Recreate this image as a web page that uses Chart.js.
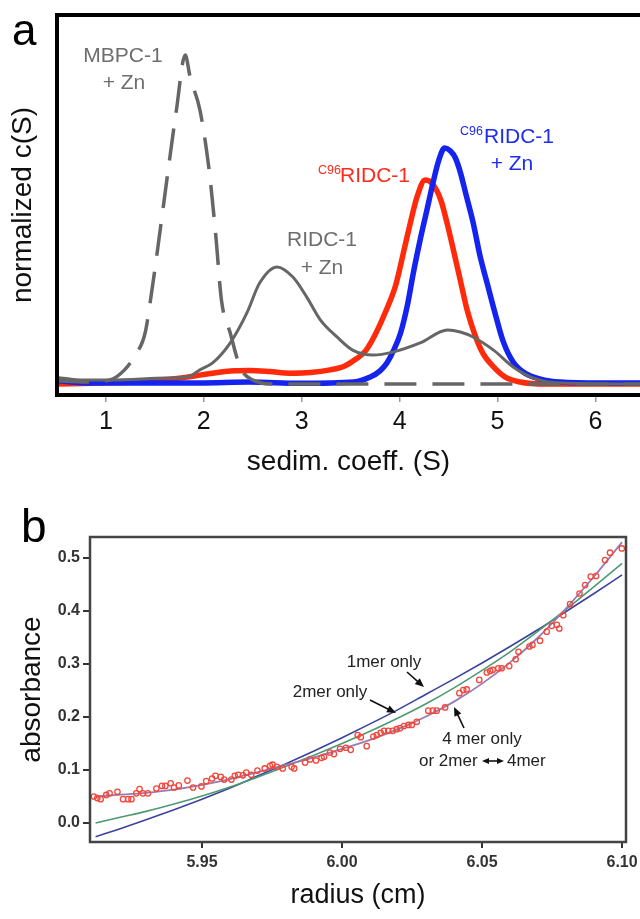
<!DOCTYPE html>
<html>
<head>
<meta charset="utf-8">
<script src="https://cdn.jsdelivr.net/npm/chart.js@4.4.0/dist/chart.umd.min.js"></script>
<style>
  html, body { margin: 0; padding: 0; background: #fff; }
  #wrap { position: relative; width: 640px; height: 919px; overflow: hidden; }
  canvas { position: absolute; left: 0; }
  #chartA { top: 0; }
  #chartB { top: 480px; }
</style>
</head>
<body>
<div id="wrap">
  <canvas id="chartA" width="640" height="480"></canvas>
  <canvas id="chartB" width="640" height="439"></canvas>
</div>
<script>
// ---- panel a : c(S) distributions ----
const sTicks = [1, 2, 3, 4, 5, 6];

const mbpcS = [0.5, 0.8, 1.04, 1.19, 1.30, 1.40, 1.47, 1.55, 1.64, 1.72, 1.81, 1.86, 1.96, 2.05, 2.12, 2.18, 2.27, 2.37, 2.5, 2.7, 6.46];
const mbpcC = [0.01, 0.006, 0.012, 0.043, 0.088, 0.155, 0.286, 0.459, 0.66, 0.833, 1.0, 0.933, 0.833, 0.66, 0.459, 0.255, 0.155, 0.052, 0.012, 0, 0];

const ridcS = [0.5, 0.77, 1.04, 1.62, 1.83, 1.96, 2.09, 2.27, 2.44, 2.57, 2.75, 2.91, 3.05, 3.19, 3.36, 3.52, 3.73, 3.93, 4.21, 4.49, 4.62, 4.75, 4.96, 5.16, 5.37, 5.64, 6.46];
const ridcC = [0.02, 0.012, 0.012, 0.018, 0.021, 0.043, 0.064, 0.125, 0.216, 0.307, 0.356, 0.325, 0.265, 0.195, 0.143, 0.103, 0.088, 0.097, 0.125, 0.164, 0.158, 0.143, 0.103, 0.052, 0.018, 0.003, 0];

const c96S = [0.5, 0.94, 1.28, 1.55, 1.83, 2.09, 2.32, 2.47, 2.67, 2.88, 3.09, 3.29, 3.44, 3.55, 3.65, 3.75, 3.85, 3.96, 4.04, 4.11, 4.18, 4.26, 4.33, 4.42, 4.49, 4.55, 4.62, 4.69, 4.77, 4.85, 4.96, 5.08, 5.23, 5.49, 6.46];
const c96C = [0, 0.003, 0.006, 0.012, 0.021, 0.033, 0.040, 0.041, 0.038, 0.033, 0.035, 0.043, 0.055, 0.075, 0.10, 0.15, 0.215, 0.30, 0.40, 0.49, 0.57, 0.62, 0.61, 0.56, 0.483, 0.407, 0.316, 0.225, 0.149, 0.094, 0.052, 0.021, 0.006, 0, 0];

const c96ZnS = [0.5, 0.84, 1.96, 2.47, 2.98, 3.53, 3.70, 3.80, 3.87, 3.94, 4.01, 4.08, 4.14, 4.21, 4.28, 4.34, 4.40, 4.46, 4.52, 4.57, 4.62, 4.68, 4.75, 4.82, 4.90, 4.98, 5.06, 5.16, 5.28, 5.44, 5.64, 6.05, 6.46];
const c96ZnC = [0.01, 0.003, 0.003, 0.006, 0.002, 0.006, 0.021, 0.04, 0.064, 0.103, 0.155, 0.24, 0.337, 0.438, 0.53, 0.61, 0.68, 0.717, 0.708, 0.687, 0.644, 0.574, 0.492, 0.392, 0.30, 0.21, 0.128, 0.067, 0.033, 0.015, 0.006, 0.003, 0.003];

// ---- panel b : absorbance vs radius ----
const rTicks = [5.95, 6.00, 6.05, 6.10];
const absTicks = [0.0, 0.1, 0.2, 0.3, 0.4, 0.5];

const radius = [5.9114, 5.9126, 5.9138, 5.9158, 5.9170, 5.9198, 5.9218, 5.9236, 5.9248, 5.9265, 5.9277, 5.9289, 5.9307, 5.9337, 5.9357, 5.9369, 5.9388, 5.9400, 5.9417, 5.9448, 5.9468, 5.9498, 5.9515, 5.9536, 5.9548, 5.9567, 5.9579, 5.9605, 5.9617, 5.9629, 5.9646, 5.9658, 5.9676, 5.9698, 5.9724,
  5.9743, 5.9752, 5.9767, 5.9788, 5.9820, 5.9829, 5.9868, 5.9886, 5.9907, 5.9927, 5.9936, 5.9957, 5.9971, 5.9993, 6.0014, 6.0031, 6.0056, 6.0067, 6.0088, 6.0112, 6.0124, 6.0138, 6.0150, 6.0165, 6.0181, 6.0195, 6.0207, 6.0221, 6.0237, 6.0249, 6.0267, 6.0308, 6.0324, 6.0338, 6.0368,
  6.0419, 6.0433, 6.0445, 6.0490, 6.0517, 6.0529, 6.0538, 6.0558, 6.0570, 6.0597, 6.0620, 6.0630, 6.0669, 6.0680, 6.0707, 6.0731, 6.0749, 6.0767, 6.0776, 6.0790, 6.0814, 6.0848, 6.0868, 6.0888, 6.0907, 6.0939, 6.0957, 6.0999];
const absorb = [0.050, 0.047, 0.045, 0.053, 0.056, 0.059, 0.045, 0.045, 0.045, 0.056, 0.064, 0.056, 0.056, 0.065, 0.070, 0.070, 0.075, 0.067, 0.071, 0.080, 0.067, 0.069, 0.079, 0.084, 0.089, 0.087, 0.082, 0.082, 0.089, 0.091, 0.090, 0.095, 0.091, 0.099, 0.103,
  0.108, 0.110, 0.106, 0.103, 0.106, 0.103, 0.114, 0.120, 0.118, 0.123, 0.125, 0.133, 0.130, 0.140, 0.142, 0.138, 0.166, 0.162, 0.145, 0.163, 0.166, 0.170, 0.174, 0.174, 0.174, 0.177, 0.179, 0.183, 0.185, 0.185, 0.191, 0.212, 0.212, 0.212, 0.218,
  0.245, 0.251, 0.252, 0.270, 0.284, 0.287, 0.289, 0.292, 0.292, 0.296, 0.309, 0.323, 0.333, 0.336, 0.344, 0.361, 0.372, 0.374, 0.367, 0.392, 0.413, 0.433, 0.449, 0.465, 0.466, 0.496, 0.510, 0.518];

const fitR = [5.912, 5.92, 5.93, 5.94, 5.95, 5.96, 5.97, 5.98, 5.99, 6.00, 6.01, 6.02, 6.03, 6.04, 6.05, 6.06, 6.07, 6.08, 6.09, 6.10];
const oneMer = [-0.026, -0.012, 0.006, 0.025, 0.045, 0.066, 0.089, 0.112, 0.136, 0.161, 0.187, 0.214, 0.243, 0.272, 0.302, 0.333, 0.365, 0.399, 0.433, 0.468];
const twoMer = [0.000, 0.010, 0.022, 0.036, 0.051, 0.068, 0.087, 0.107, 0.128, 0.150, 0.173, 0.198, 0.225, 0.255, 0.288, 0.323, 0.362, 0.403, 0.446, 0.490];
const fourMer = [0.050, 0.053, 0.057, 0.063, 0.072, 0.083, 0.096, 0.110, 0.124, 0.140, 0.157, 0.177, 0.201, 0.229, 0.263, 0.303, 0.350, 0.405, 0.465, 0.530];

const FONT = "'Liberation Sans', Arial, Helvetica, sans-serif";
Chart.defaults.font.family = FONT;

function pairs(xs, ys) {
  return xs.map((x, i) => ({ x: x, y: ys[i] }));
}

function text(ctx, str, x, y, size, color, align, weight) {
  ctx.font = (weight || 'normal') + ' ' + size + 'px ' + FONT;
  ctx.fillStyle = color;
  ctx.textAlign = align || 'center';
  ctx.textBaseline = 'middle';
  ctx.fillText(str, x, y);
}

function arrow(ctx, x1, y1, x2, y2, head) {
  const a = Math.atan2(y2 - y1, x2 - x1);
  const c = Math.cos(a), s = Math.sin(a);
  ctx.beginPath();
  ctx.moveTo(x1, y1);
  ctx.lineTo(x2 - c * head * 0.7, y2 - s * head * 0.7);
  ctx.stroke();
  ctx.beginPath();
  ctx.moveTo(x2, y2);
  ctx.lineTo(x2 - head * c + head * 0.42 * s, y2 - head * s - head * 0.42 * c);
  ctx.lineTo(x2 - head * c - head * 0.42 * s, y2 - head * s + head * 0.42 * c);
  ctx.closePath();
  ctx.fill();
}

// frame + labels for panel a
const decorA = {
  id: 'decorA',
  afterDraw(chart) {
    const { ctx, chartArea: a } = chart;
    ctx.save();
    ctx.strokeStyle = '#000';
    ctx.lineWidth = 4;
    ctx.beginPath();
    ctx.moveTo(a.right + 10, a.top);
    ctx.lineTo(a.left, a.top);
    ctx.lineTo(a.left, a.bottom);
    ctx.lineTo(a.right + 10, a.bottom);
    ctx.stroke();

    ctx.font = '44px ' + FONT;
    ctx.fillStyle = '#000';
    ctx.textAlign = 'left';
    ctx.textBaseline = 'alphabetic';
    ctx.fillText('a', 12, 45);

    const gray = '#6e6e6e', red = '#ff2a1a', blue = '#1e2cf0';
    text(ctx, 'MBPC-1', 123, 56, 21, gray);
    text(ctx, '+ Zn', 124, 83, 21, gray);
    text(ctx, 'RIDC-1', 322, 240, 21, gray);
    text(ctx, '+ Zn', 322, 268, 21, gray);

    text(ctx, 'C96', 318, 171, 12.5, red, 'left');
    text(ctx, 'RIDC-1', 340, 176, 21, red, 'left');

    text(ctx, 'C96', 460, 132, 12.5, blue, 'left');
    text(ctx, 'RIDC-1', 484, 137, 21, blue, 'left');
    text(ctx, '+ Zn', 512, 164, 21, blue);
    ctx.restore();
  }
};

// frame + labels for panel b
const decorB = {
  id: 'decorB',
  afterDraw(chart) {
    const { ctx, chartArea: a } = chart;
    ctx.save();
    ctx.strokeStyle = '#444';
    ctx.lineWidth = 2.5;
    ctx.strokeRect(a.left, a.top, a.right - a.left, a.bottom - a.top);

    ctx.font = '46px ' + FONT;
    ctx.fillStyle = '#000';
    ctx.textAlign = 'left';
    ctx.textBaseline = 'alphabetic';
    ctx.fillText('b', 21, 62);

    const ink = '#222';
    text(ctx, '1mer only', 384, 182, 17, ink);
    text(ctx, '2mer only', 330, 212, 17, ink);
    text(ctx, '4 mer only', 482, 259, 17, ink);
    text(ctx, 'or 2mer', 419, 281, 17, ink, 'left');
    text(ctx, '4mer', 507, 281, 17, ink, 'left');

    ctx.strokeStyle = '#111';
    ctx.fillStyle = '#111';
    ctx.lineWidth = 1.6;
    arrow(ctx, 407, 192, 424, 207, 9);
    arrow(ctx, 370, 220, 396, 233, 9);
    arrow(ctx, 464, 248, 454, 227, 9);
    arrow(ctx, 493, 281, 482, 281, 7);
    arrow(ctx, 493, 281, 504, 281, 7);
    ctx.restore();
  }
};

new Chart(document.getElementById('chartA'), {
  type: 'line',
  data: {
    datasets: [
      { label: 'MBPC-1 + Zn', data: pairs(mbpcS, mbpcC), borderColor: '#666', borderWidth: 3.5, borderDash: [32, 16], cubicInterpolationMode: 'monotone' },
      { label: 'RIDC-1 + Zn', data: pairs(ridcS, ridcC), borderColor: '#666', borderWidth: 3, cubicInterpolationMode: 'monotone' },
      { label: 'C96RIDC-1 + Zn', data: pairs(c96ZnS, c96ZnC), borderColor: '#1424ee', borderWidth: 5.5, cubicInterpolationMode: 'monotone' },
      { label: 'C96RIDC-1', data: pairs(c96S, c96C), borderColor: '#ff2a0a', borderWidth: 5.5, cubicInterpolationMode: 'monotone' }
    ]
  },
  options: {
    responsive: false,
    animation: false,
    devicePixelRatio: 1,
    layout: { padding: { top: 15, left: 0, right: 0, bottom: 0 } },
    plugins: { legend: { display: false }, tooltip: { enabled: false } },
    elements: { point: { radius: 0 }, line: { borderJoinStyle: 'round' } },
    scales: {
      x: {
        type: 'linear', min: 0.5, max: 6.456,
        afterBuildTicks: s => { s.ticks = sTicks.map(v => ({ value: v })); },
        afterFit: s => { s.height = 85; s.paddingLeft = 0; s.paddingRight = 0; },
        grid: { drawOnChartArea: false, tickLength: 7, color: '#999', lineWidth: 1.5 },
        border: { display: false },
        ticks: { font: { size: 25 }, color: '#111', padding: 5, autoSkip: false, maxRotation: 0 },
        title: { display: true, text: 'sedim. coeff. (S)', font: { size: 28 }, color: '#111', padding: { top: 0, bottom: 1 } }
      },
      y: {
        type: 'linear', min: -0.0334, max: 1.1216,
        afterFit: s => { s.width = 57; s.paddingTop = 0; s.paddingBottom = 0; },
        grid: { display: false },
        border: { display: false },
        ticks: { display: false },
        title: { display: true, text: 'normalized c(S)', font: { size: 28 }, color: '#111', padding: { top: 6, bottom: 0 } }
      }
    }
  },
  plugins: [decorA]
});

new Chart(document.getElementById('chartB'), {
  type: 'line',
  data: {
    datasets: [
      { label: 'data', data: pairs(radius, absorb), showLine: false, pointRadius: 2.7, pointBorderWidth: 1.3, pointBorderColor: '#f4463a', pointBackgroundColor: 'rgba(0,0,0,0)' },
      { label: '4 mer only', data: pairs(fitR, fourMer), borderColor: '#9a7ab2', borderWidth: 1.8, pointRadius: 0, cubicInterpolationMode: 'monotone' },
      { label: '2mer only', data: pairs(fitR, twoMer), borderColor: '#4c9a72', borderWidth: 1.6, pointRadius: 0, cubicInterpolationMode: 'monotone' },
      { label: '1mer only', data: pairs(fitR, oneMer), borderColor: '#3d41a0', borderWidth: 1.6, pointRadius: 0, cubicInterpolationMode: 'monotone' }
    ]
  },
  options: {
    responsive: false,
    animation: false,
    devicePixelRatio: 1,
    layout: { padding: { top: 57, left: 0, right: 14, bottom: 0 } },
    plugins: { legend: { display: false }, tooltip: { enabled: false } },
    scales: {
      x: {
        type: 'linear', min: 5.910, max: 6.1014,
        afterBuildTicks: s => { s.ticks = rTicks.map(v => ({ value: v })); },
        afterFit: s => { s.height = 77; s.paddingLeft = 0; s.paddingRight = 0; },
        grid: { drawOnChartArea: false, tickLength: 6, color: '#333', lineWidth: 2 },
        border: { display: false },
        ticks: { font: { size: 16, weight: 'bold' }, color: '#333', padding: 5, autoSkip: false, maxRotation: 0, callback: v => v.toFixed(2) },
        title: { display: true, text: 'radius (cm)', font: { size: 27 }, color: '#111', padding: { top: 0, bottom: 7 } }
      },
      y: {
        type: 'linear', min: -0.0358, max: 0.5396,
        afterBuildTicks: s => { s.ticks = absTicks.map(v => ({ value: v })); },
        afterFit: s => { s.width = 90; s.paddingTop = 0; s.paddingBottom = 0; },
        grid: { drawOnChartArea: false, tickLength: 7, color: '#333', lineWidth: 2 },
        border: { display: false },
        ticks: { font: { size: 16, weight: 'bold' }, color: '#333', padding: 3, autoSkip: false, callback: v => v.toFixed(1) },
        title: { display: true, text: 'absorbance', font: { size: 28 }, color: '#111', padding: { top: 15, bottom: 0 } }
      }
    }
  },
  plugins: [decorB]
});
</script>
</body>
</html>
